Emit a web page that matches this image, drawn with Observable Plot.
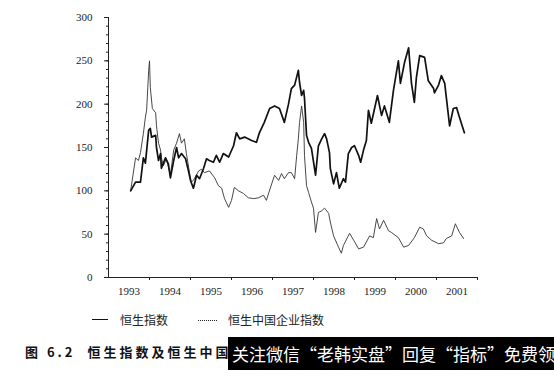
<!DOCTYPE html>
<html>
<head>
<meta charset="utf-8">
<script src="https://cdn.jsdelivr.net/npm/d3@7"></script>
<script src="https://cdn.jsdelivr.net/npm/@observablehq/plot@0.6"></script>
<style>
  html, body { margin: 0; padding: 0; background: #fff; }
  #wrap { position: relative; width: 554px; height: 378px; overflow: hidden; background: #fff; }
  #chart { position: absolute; left: 0; top: 0; }
  .leg { position: absolute; font-family: "Noto Sans CJK SC", sans-serif; font-size: 12px; color: #222; white-space: nowrap; }
  .sw { position: absolute; height: 0; }
  #cap { position: absolute; left: 25px; top: 342px; font-family: "Noto Sans CJK SC", sans-serif; font-weight: bold; font-size: 13px; letter-spacing: 3px; color: #111; white-space: nowrap; }
  #wm { position: absolute; left: 228px; top: 337px; width: 330px; height: 33px; background: #000; color: #fff; font-family: "Noto Sans CJK SC", sans-serif; font-size: 17px; line-height: 33px; padding-left: 4px; white-space: nowrap; overflow: hidden; }
</style>
</head>
<body>
<div id="wrap">
  <div id="chart"></div>
  <div class="sw" style="left:92px; top:319px; width:16px; border-top:1.6px solid #111;"></div>
  <div class="leg" style="left:120px; top:311px;">恒生指数</div>
  <div class="sw" style="left:198px; top:320px; width:19px; border-top:1px dotted #222;"></div>
  <div class="leg" style="left:228px; top:311px;">恒生中国企业指数</div>
  <div id="cap">图 6.2&nbsp;&nbsp;恒生指数及恒生中国</div>
  <div id="wm">关注微信“老韩实盘”回复“指标”免费领</div>
</div>
<script>
// Hang Seng Index (rebased, 100 = start)
const hsiYear = [1993.54,1993.66,1993.78,1993.85,1993.90,1993.98,1994.02,1994.05,1994.15,1994.17,1994.22,1994.27,1994.29,1994.39,1994.46,1994.51,1994.59,1994.66,1994.71,1994.78,1994.88,1994.95,1995.00,1995.07,1995.15,1995.22,1995.32,1995.39,1995.46,1995.56,1995.63,1995.71,1995.80,1995.93,1996.05,1996.12,1996.20,1996.32,1996.49,1996.61,1996.68,1996.80,1996.93,1997.05,1997.17,1997.29,1997.39,1997.46,1997.54,1997.63,1997.66,1997.71,1997.76,1997.78,1997.83,1997.88,1997.95,1998.05,1998.12,1998.20,1998.27,1998.32,1998.39,1998.41,1998.49,1998.56,1998.63,1998.73,1998.78,1998.85,1998.93,1999.00,1999.10,1999.15,1999.22,1999.29,1999.34,1999.41,1999.56,1999.66,1999.73,1999.85,1999.95,2000.07,2000.12,2000.22,2000.32,2000.39,2000.46,2000.51,2000.59,2000.71,2000.80,2000.93,2000.95,2001.05,2001.12,2001.20,2001.32,2001.41,2001.49,2001.56,2001.68];
const hsiValue = [100,110,110,138,132,170,172,162,164,150,135,143,126,138,131,115,135,150,138,143,137,123,112,103,118,114,126,137,135,133,141,133,143,139,152,167,160,162,158,156,167,179,195,198,195,179,200,218,222,239,225,210,216,207,164,156,149,118,152,160,166,160,144,126,108,121,103,114,110,143,150,152,141,133,147,158,193,178,210,187,198,179,216,250,224,248,265,224,202,231,256,254,227,218,213,222,233,224,175,195,196,185,167];

// Hang Seng China Enterprises Index (rebased, 100 = start)
const hsceiYear = [1993.54,1993.66,1993.73,1993.78,1993.85,1993.90,1993.93,1993.98,1994.00,1994.02,1994.07,1994.15,1994.17,1994.22,1994.27,1994.29,1994.34,1994.41,1994.51,1994.59,1994.66,1994.73,1994.78,1994.85,1994.90,1994.98,1995.02,1995.07,1995.20,1995.27,1995.34,1995.46,1995.59,1995.68,1995.76,1995.83,1995.93,1996.00,1996.07,1996.17,1996.29,1996.41,1996.54,1996.66,1996.78,1996.85,1996.98,1997.05,1997.15,1997.22,1997.29,1997.39,1997.46,1997.54,1997.59,1997.63,1997.66,1997.71,1997.76,1997.78,1997.83,1997.88,1997.95,1998.00,1998.05,1998.12,1998.20,1998.27,1998.37,1998.41,1998.49,1998.61,1998.68,1998.73,1998.88,1998.98,1999.10,1999.22,1999.37,1999.46,1999.54,1999.61,1999.71,1999.83,1999.90,2000.07,2000.20,2000.32,2000.46,2000.59,2000.68,2000.76,2000.88,2001.05,2001.17,2001.24,2001.37,2001.46,2001.56,2001.66];
const hsceiValue = [100,138,135,144,166,185,193,239,250,219,195,190,175,155,147,138,129,137,118,147,155,166,155,160,143,120,110,112,123,125,121,123,115,106,103,91,81,89,104,100,97,92,91,92,95,89,108,118,112,120,114,121,121,114,141,160,179,198,179,141,106,98,87,80,52,75,77,80,74,64,48,35,28,37,51,43,33,35,48,46,68,56,66,54,52,46,35,37,46,58,56,48,43,39,40,45,48,62,52,45];

// Axis tick values
const yLabelTicks = [0, 50, 100, 150, 200, 250, 300];
const yMinorTicks = d3.range(0, 301, 10);
const yearBoundaries = [1994, 1995, 1996, 1997, 1998, 1999, 2000, 2001, 2002];
const yearLabels = [1993, 1994, 1995, 1996, 1997, 1998, 1999, 2000, 2001];

const hsi = hsiYear.map((t, i) => ({t, v: hsiValue[i]}));
const hscei = hsceiYear.map((t, i) => ({t, v: hsceiValue[i]}));

const chart = Plot.plot({
  width: 554,
  height: 305,
  marginLeft: 108,
  marginRight: 77,
  marginTop: 17,
  marginBottom: 28,
  style: {fontFamily: "'Liberation Serif', serif", fontSize: "11px", color: "#222", background: "transparent"},
  x: {domain: [1993, 2002]},
  y: {domain: [0, 300]},
  marks: [
    Plot.axisY({ticks: yMinorTicks, tickSize: 2, tickFormat: () => "", label: null}),
    Plot.axisY({ticks: yLabelTicks, tickSize: 4, tickPadding: 12, label: null}),
    Plot.axisX({ticks: yearBoundaries, tickSize: 3, tickFormat: () => "", label: null}),
    Plot.axisX({ticks: yearLabels.map(y => y + 0.5), tickSize: 0, tickPadding: 10, tickFormat: d => String(Math.floor(d)), label: null}),
    Plot.ruleY([0], {stroke: "#222", strokeWidth: 1}),
    Plot.ruleX([1993], {stroke: "#222", strokeWidth: 1}),
    Plot.line(hscei, {x: "t", y: "v", stroke: "#333", strokeWidth: 0.9}),
    Plot.line(hsi, {x: "t", y: "v", stroke: "#111", strokeWidth: 1.7})
  ]
});
document.getElementById("chart").appendChild(chart);
</script>
</body>
</html>
